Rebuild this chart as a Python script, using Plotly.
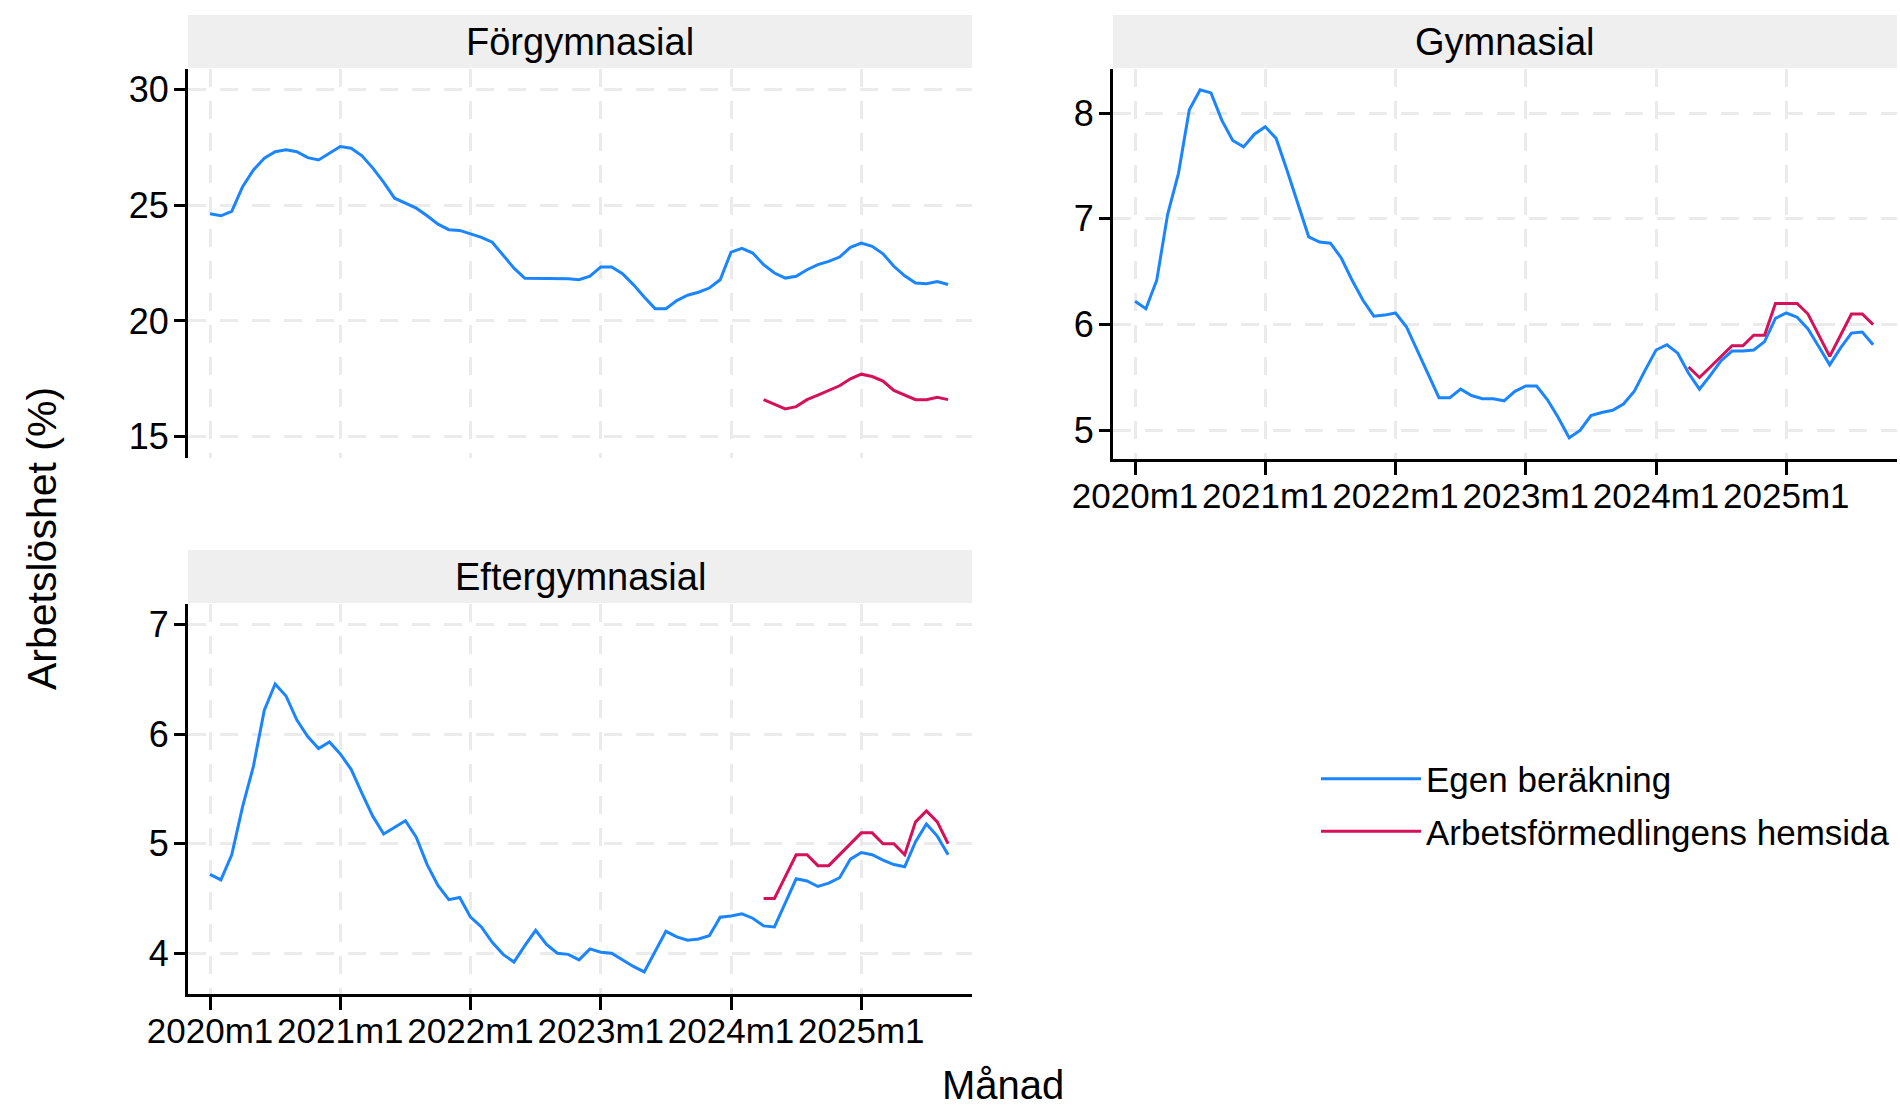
import plotly.graph_objects as go

W, H = 1900, 1109

# ---------------- data ----------------
years = [2020, 2021, 2022, 2023, 2024, 2025]
months = [f"{y}m{m}" for y in years for m in range(1, 13)][:69]  # 2020m1 .. 2025m9
tick_labels = ["2020m1", "2021m1", "2022m1", "2023m1", "2024m1", "2025m1"]

forgym_egen = [24.63, 24.54, 24.73, 25.80, 26.52, 27.03, 27.31, 27.39, 27.31, 27.05,
               26.95, 27.24, 27.53, 27.46, 27.13, 26.60, 25.98, 25.30, 25.09, 24.87,
               24.54, 24.18, 23.94, 23.91, 23.76, 23.61, 23.40, 22.86, 22.28, 21.84,
               21.84, 21.84, 21.82, 21.82, 21.78, 21.93, 22.33, 22.33, 22.04, 21.57,
               21.03, 20.53, 20.53, 20.88, 21.11, 21.24, 21.42, 21.78, 22.97, 23.13,
               22.93, 22.43, 22.07, 21.85, 21.93, 22.21, 22.43, 22.57, 22.76, 23.18,
               23.36, 23.22, 22.90, 22.36, 21.95, 21.64, 21.61, 21.70, 21.57]
forgym_af = [16.6, 16.4, 16.2, 16.3, 16.6, 16.8, 17.0, 17.2, 17.5, 17.7,
             17.6, 17.4, 17.0, 16.8, 16.6, 16.6, 16.7, 16.6]

gym_egen = [6.22, 6.15, 6.42, 7.04, 7.43, 8.03, 8.22, 8.19, 7.93, 7.74,
            7.68, 7.80, 7.87, 7.76, 7.46, 7.15, 6.83, 6.78, 6.77, 6.63,
            6.42, 6.23, 6.08, 6.09, 6.11, 5.98, 5.76, 5.54, 5.31, 5.31,
            5.39, 5.33, 5.30, 5.30, 5.28, 5.37, 5.42, 5.42, 5.29, 5.12,
            4.93, 5.00, 5.14, 5.17, 5.19, 5.25, 5.37, 5.57, 5.76, 5.81,
            5.73, 5.54, 5.39, 5.52, 5.66, 5.75, 5.75, 5.76, 5.84, 6.06,
            6.11, 6.07, 5.96, 5.79, 5.62, 5.78, 5.92, 5.93, 5.81]
gym_af = [5.6, 5.5, 5.6, 5.7, 5.8, 5.8, 5.9, 5.9, 6.2, 6.2,
          6.2, 6.1, 5.9, 5.7, 5.9, 6.1, 6.1, 6.0]

eftergym_egen = [4.72, 4.67, 4.90, 5.34, 5.71, 6.22, 6.46, 6.35, 6.13, 5.98,
                 5.87, 5.93, 5.82, 5.68, 5.46, 5.25, 5.09, 5.15, 5.21, 5.06,
                 4.81, 4.62, 4.49, 4.51, 4.33, 4.24, 4.10, 3.99, 3.92, 4.07,
                 4.21, 4.08, 4.00, 3.99, 3.94, 4.04, 4.01, 4.00, 3.94, 3.88,
                 3.83, 4.01, 4.20, 4.15, 4.12, 4.13, 4.16, 4.33, 4.34, 4.36,
                 4.32, 4.25, 4.24, 4.46, 4.68, 4.66, 4.61, 4.64, 4.69, 4.86,
                 4.92, 4.90, 4.85, 4.81, 4.79, 5.02, 5.18, 5.07, 4.90]
eftergym_af = [4.5, 4.5, 4.7, 4.9, 4.9, 4.8, 4.8, 4.9, 5.0, 5.1,
               5.1, 5.0, 5.0, 4.9, 5.2, 5.3, 5.2, 5.0]

af_months = months[-len(forgym_af):]  # 2024m4 .. 2025m9

panels = [
    ("Förgymnasial", forgym_egen, forgym_af, [15, 20, 25, 30], [14.08, 30.88]),
    ("Gymnasial", gym_egen, gym_af, [5, 6, 7, 8], [4.73, 8.416]),
    ("Eftergymnasial", eftergym_egen, eftergym_af, [4, 5, 6, 7], [3.628, 7.19]),
]

BLUE = "#1A85FF"
RED = "#D41159"
FONT = "Arial, Liberation Sans, sans-serif"
GRID = "#ebebeb"

# pixel layout of the three panels (left, right, top, bottom, strip_top)
boxes = [
    (188, 972, 69, 458, 15),
    (1113, 1897, 69, 459, 15),
    (188, 972, 604, 994, 550),
]

fig = go.Figure()
shapes = []
annotations = []

for i, ((title, egen, af, yt, yr), (l, r, t, b, st)) in enumerate(zip(panels, boxes)):
    n = "" if i == 0 else str(i + 1)
    xa, ya = "x" + n, "y" + n
    fig.add_trace(go.Scatter(x=months, y=egen, mode="lines", name="Egen beräkning",
                             line=dict(color=BLUE, width=3), xaxis=xa, yaxis=ya,
                             showlegend=(i == 0), legendgroup="egen"))
    fig.add_trace(go.Scatter(x=af_months, y=af, mode="lines", name="Arbetsförmedlingens hemsida",
                             line=dict(color=RED, width=3), xaxis=xa, yaxis=ya,
                             showlegend=(i == 0), legendgroup="af"))
    show_x = i != 0
    fig.layout["xaxis" + n] = dict(
        domain=[l / W, r / W], anchor=ya, type="category",
        categoryorder="array", categoryarray=months,
        range=[-2.03, 70.2], tickmode="array", tickvals=tick_labels,
        ticktext=tick_labels if show_x else [""] * len(tick_labels),
        showticklabels=show_x, ticks="outside" if show_x else "", ticklen=13, tickwidth=3,
        tickcolor="black", showline=show_x, linecolor="black", linewidth=3,
        showgrid=True, gridcolor=GRID, gridwidth=3, griddash="18px,14px",
        zeroline=False, tickfont=dict(family=FONT, size=35, color="black"),
        ticklabelstandoff=-9, automargin=False, fixedrange=True,
    )
    fig.layout["yaxis" + n] = dict(
        domain=[1 - b / H, 1 - t / H], anchor=xa, range=yr,
        tickmode="array", tickvals=yt, ticks="outside", ticklen=11, tickwidth=3,
        tickcolor="black", showline=True, linecolor="black", linewidth=3,
        showgrid=True, gridcolor=GRID, gridwidth=3, griddash="18px,14px",
        zeroline=False, tickfont=dict(family=FONT, size=36, color="black"),
        ticklabelstandoff=-2, automargin=False, fixedrange=True,
    )
    shapes.append(dict(type="rect", xref="paper", yref="paper",
                       x0=l / W, x1=r / W, y0=1 - (t - 1) / H, y1=1 - st / H,
                       fillcolor="#efefef", line=dict(width=0), layer="below"))
    annotations.append(dict(text=title, xref="paper", yref="paper",
                            x=(l + r) / 2 / W, y=1 - (st + t) / 2 / H,
                            xanchor="center", yanchor="middle", showarrow=False,
                            font=dict(family=FONT, size=38, color="black")))

annotations.append(dict(text="Arbetslöshet (%)", xref="paper", yref="paper",
                        x=42 / W, y=1 - 539 / H, textangle=-90, xanchor="center",
                        yanchor="middle", showarrow=False,
                        font=dict(family=FONT, size=41, color="black")))
annotations.append(dict(text="Månad", xref="paper", yref="paper",
                        x=1003 / W, y=1 - 1085 / H, xanchor="center",
                        yanchor="middle", showarrow=False,
                        font=dict(family=FONT, size=40, color="black")))

fig.update_layout(
    width=W, height=H, margin=dict(l=0, r=0, t=0, b=0, autoexpand=False),
    paper_bgcolor="white", plot_bgcolor="white",
    shapes=shapes, annotations=annotations,
    legend=dict(x=1316 / W, y=1 - 805 / H, xanchor="left", yanchor="middle",
                font=dict(family=FONT, size=35, color="black"),
                bgcolor="rgba(0,0,0,0)", itemwidth=100, tracegroupgap=4),
)

fig.write_html(
    "out.html",
    config={"displayModeBar": False},
    post_script="document.body.style.margin='0';document.body.style.overflow='hidden';",
)
